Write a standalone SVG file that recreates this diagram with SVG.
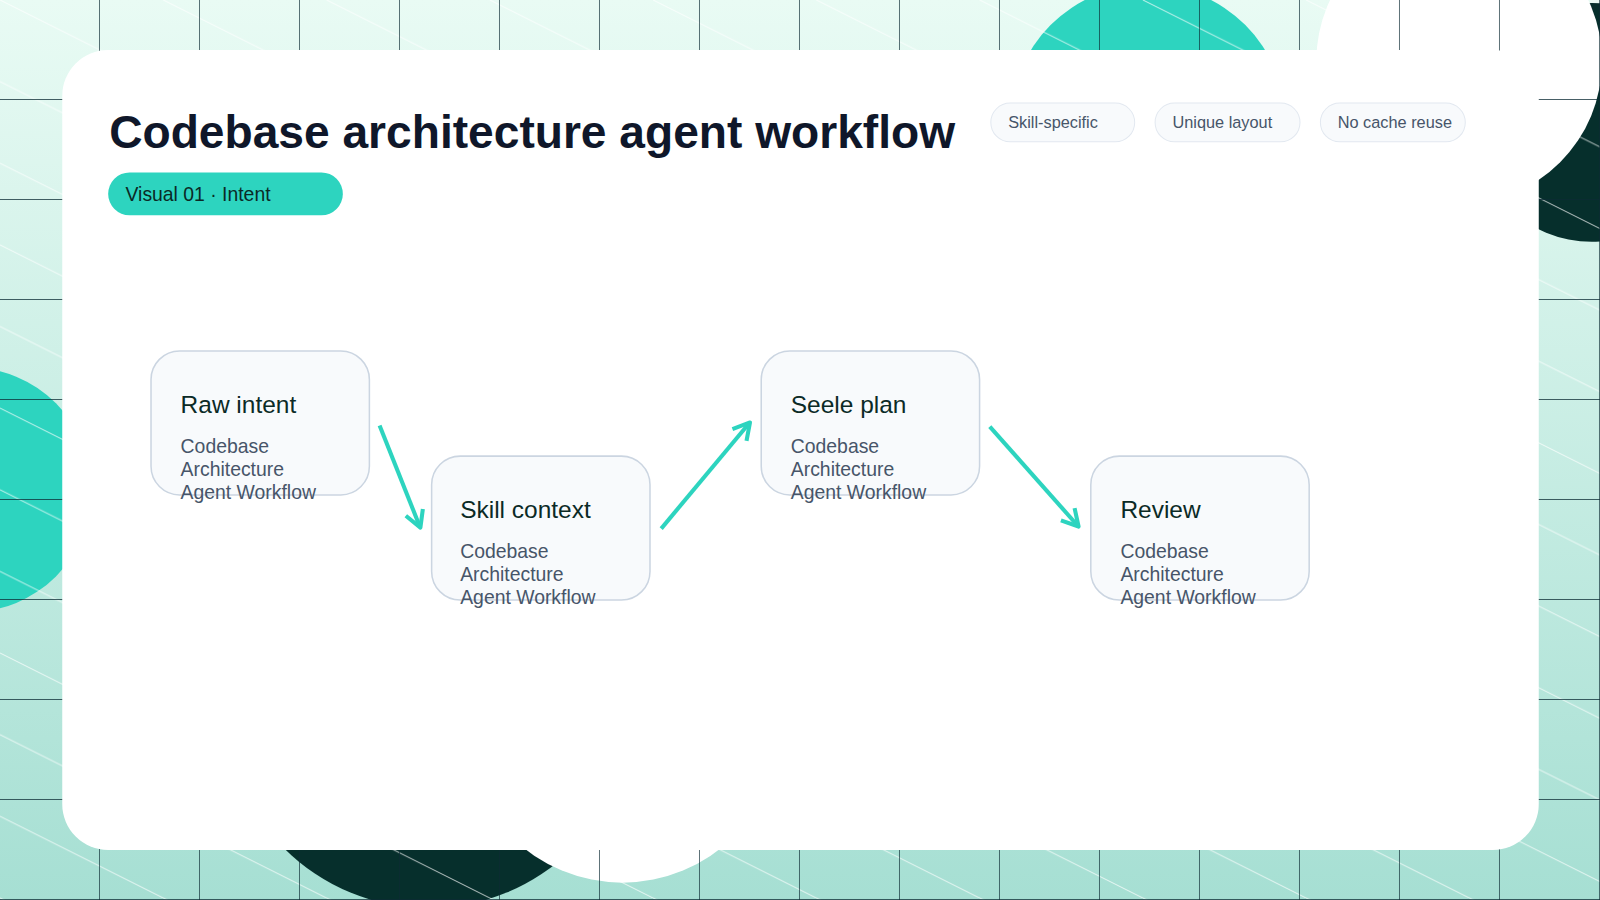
<svg xmlns="http://www.w3.org/2000/svg" width="1600" height="900" viewBox="0 0 1600 900">
<defs>
<linearGradient id="bg" x1="0" y1="0" x2="0" y2="1"><stop offset="0" stop-color="#e9fbf4"/><stop offset="1" stop-color="#a6dfd3"/></linearGradient>
<pattern id="grid" width="98" height="98" patternUnits="userSpaceOnUse"><path d="M98 0V98M0 98H98" fill="none" stroke="#0b2a33" stroke-width="1.3"/></pattern>
<pattern id="diag" width="160" height="80" patternUnits="userSpaceOnUse"><path d="M0 0L160 80M-160 0L160 160" stroke="#ffffff" stroke-opacity="0.7" stroke-width="1"/></pattern>
</defs>
<style>
.node rect{fill:#f8fafc;stroke:#cbd5e1;stroke-width:1.5}
.nt{font:24px "Liberation Sans",Arial,sans-serif;fill:#0b2a26}
.ns{font:19px "Liberation Sans",Arial,sans-serif;fill:#475569}
.chip rect{fill:#f8fafc;stroke:#e2e8f0;stroke-width:1}
.chip text{font:16px "Liberation Sans",Arial,sans-serif;fill:#475569}
.conn path{stroke:#2dd4bf;stroke-width:4;fill:none;stroke-linejoin:round}
</style>
<g transform="scale(1.0204)">
<rect x="0" y="0" width="1568" height="882" fill="url(#bg)"/>
<circle cx="1125" cy="120" r="135" fill="#2dd4bf"/>
<circle cx="-30" cy="480" r="120" fill="#2dd4bf"/>
<circle cx="1560" cy="120" r="117" fill="#062f2c"/>
<circle cx="1430" cy="60" r="140" fill="#ffffff"/>
<circle cx="420" cy="690" r="200" fill="#062f2c"/>
<circle cx="610" cy="710" r="155" fill="#ffffff"/>
<rect x="0" y="0" width="1568" height="882" fill="url(#diag)"/>
<rect x="0" y="0" width="1568" height="882" fill="url(#grid)"/>
<rect x="61" y="49" width="1447" height="784" rx="45" fill="#ffffff"/>
<text x="107" y="145" font-family="Liberation Sans,Arial,sans-serif" font-size="46" font-weight="bold" fill="#0f172a" textLength="829" lengthAdjust="spacingAndGlyphs">Codebase architecture agent workflow</text>
<rect x="106" y="169" width="230" height="42" rx="21" fill="#2dd4bf"/>
<text x="123" y="197" font-family="Liberation Sans,Arial,sans-serif" font-size="19" fill="#0b2a26">Visual 01 · Intent</text>
<g id="chip1" class="chip"><rect x="971" y="101" width="141" height="38" rx="19"/><text x="988" y="125">Skill-specific</text></g>
<g id="chip2" class="chip"><rect x="1132" y="101" width="142" height="38" rx="19"/><text x="1149" y="125">Unique layout</text></g>
<g id="chip3" class="chip"><rect x="1294" y="101" width="142" height="38" rx="19"/><text x="1311" y="125">No cache reuse</text></g>
<g id="connectors" class="conn">
<path d="M372 417L411 515"/><path d="M397.7 505.4L412 517L414.4 498.8"/>
<path d="M648 518L734 415"/><path d="M731.6 432.1L735 414L717.8 420.5"/>
<path d="M970 418L1056 515"/><path d="M1039.7 510L1057 516L1053.1 498"/>
</g>
<g id="node-raw" class="node"><rect x="148" y="344" width="214" height="141" rx="28"/><text class="nt" x="177" y="405">Raw intent</text><text class="ns" x="177" y="444">Codebase</text><text class="ns" x="177" y="466">Architecture</text><text class="ns" x="177" y="489">Agent Workflow</text></g>
<g id="node-skill" class="node"><rect x="423" y="447" width="214" height="141" rx="28"/><text class="nt" x="451" y="508">Skill context</text><text class="ns" x="451" y="547">Codebase</text><text class="ns" x="451" y="569">Architecture</text><text class="ns" x="451" y="592">Agent Workflow</text></g>
<g id="node-seele" class="node"><rect x="746" y="344" width="214" height="141" rx="28"/><text class="nt" x="775" y="405">Seele plan</text><text class="ns" x="775" y="444">Codebase</text><text class="ns" x="775" y="466">Architecture</text><text class="ns" x="775" y="489">Agent Workflow</text></g>
<g id="node-review" class="node"><rect x="1069" y="447" width="214" height="141" rx="28"/><text class="nt" x="1098" y="508">Review</text><text class="ns" x="1098" y="547">Codebase</text><text class="ns" x="1098" y="569">Architecture</text><text class="ns" x="1098" y="592">Agent Workflow</text></g>
</g>
</svg>
